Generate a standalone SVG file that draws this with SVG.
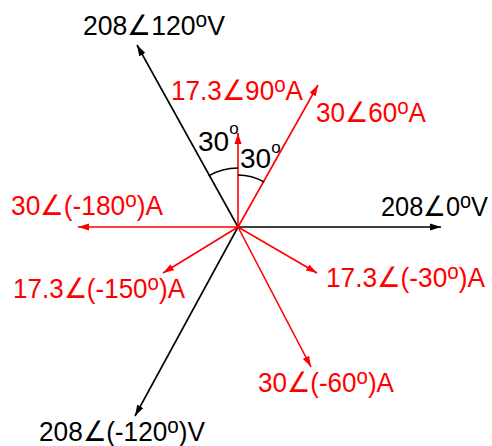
<svg xmlns="http://www.w3.org/2000/svg" width="492" height="446" viewBox="0 0 492 446">
<style>
.t{font-family:"Liberation Sans",Arial,sans-serif;font-size:28px}
.k{fill:#000}
.r{fill:#f00}
.s{font-size:22px}
.ss{font-size:17px}
.lk{stroke:#000;stroke-width:1.6;fill:none}
.lr{stroke:#f00;stroke-width:1.6;fill:none}
</style>
<defs>
<marker id="ak" markerUnits="userSpaceOnUse" markerWidth="12" markerHeight="8" refX="11" refY="4" orient="auto"><path d="M0,0.5 L11,4 L0,7.5 Z" fill="#000"/></marker>
<marker id="ar" markerUnits="userSpaceOnUse" markerWidth="12" markerHeight="8" refX="11" refY="4" orient="auto"><path d="M0,0.5 L11,4 L0,7.5 Z" fill="#f00"/></marker>
</defs>
<rect width="492" height="446" fill="#fff"/>
<g id="connectors">
<line class="lk" x1="238" y1="227" x2="441" y2="227" marker-end="url(#ak)"/>
<line class="lk" x1="238" y1="227" x2="137" y2="45" marker-end="url(#ak)"/>
<line class="lk" x1="238" y1="227" x2="135" y2="416" marker-end="url(#ak)"/>
<line class="lr" x1="238" y1="227" x2="238" y2="133" marker-end="url(#ar)"/>
<line class="lr" x1="238" y1="227" x2="318" y2="85" marker-end="url(#ar)"/>
<line class="lr" x1="238" y1="227" x2="78" y2="227" marker-end="url(#ar)"/>
<line class="lr" x1="238" y1="227" x2="163" y2="273" marker-end="url(#ar)"/>
<line class="lr" x1="238" y1="227" x2="317" y2="273" marker-end="url(#ar)"/>
<line class="lr" x1="238" y1="227" x2="311" y2="367" marker-end="url(#ar)"/>
<path class="lk" d="M208.5,175.9 A59,59 0 0 1 238,168"/>
<path class="lk" d="M238,175 A52,52 0 0 1 264,182"/>
</g>
<g id="v120"><text class="t k" x="83" y="35" textLength="142" lengthAdjust="spacingAndGlyphs">208∠120<tspan class="s" dy="-8">o</tspan><tspan dy="8">V</tspan></text></g>
<g id="i90"><text class="t r" x="171" y="100" textLength="132" lengthAdjust="spacingAndGlyphs">17.3∠90<tspan class="s" dy="-8">o</tspan><tspan dy="8">A</tspan></text></g>
<g id="i60"><text class="t r" x="316" y="122" textLength="110" lengthAdjust="spacingAndGlyphs">30∠60<tspan class="s" dy="-8">o</tspan><tspan dy="8">A</tspan></text></g>
<g id="ang1"><text class="t k" x="198" y="151">30<tspan class="ss" dy="-17">o</tspan></text></g>
<g id="ang2"><text class="t k" x="240" y="168">30<tspan class="ss" dy="-15">o</tspan></text></g>
<g id="i180"><text class="t r" x="11" y="215" textLength="152" lengthAdjust="spacingAndGlyphs">30∠(-180<tspan class="s" dy="-8">o</tspan><tspan dy="8">)A</tspan></text></g>
<g id="v0"><text class="t k" x="381" y="216" textLength="107" lengthAdjust="spacingAndGlyphs">208∠0<tspan class="s" dy="-8">o</tspan><tspan dy="8">V</tspan></text></g>
<g id="i150"><text class="t r" x="13" y="298" textLength="172" lengthAdjust="spacingAndGlyphs">17.3∠(-150<tspan class="s" dy="-8">o</tspan><tspan dy="8">)A</tspan></text></g>
<g id="i30"><text class="t r" x="326" y="287" textLength="159" lengthAdjust="spacingAndGlyphs">17.3∠(-30<tspan class="s" dy="-8">o</tspan><tspan dy="8">)A</tspan></text></g>
<g id="vm120"><text class="t k" x="39" y="441" textLength="166" lengthAdjust="spacingAndGlyphs">208∠(-120<tspan class="s" dy="-8">o</tspan><tspan dy="8">)V</tspan></text></g>
<g id="im60"><text class="t r" x="258" y="392" textLength="136" lengthAdjust="spacingAndGlyphs">30∠(-60<tspan class="s" dy="-8">o</tspan><tspan dy="8">)A</tspan></text></g>
</svg>
